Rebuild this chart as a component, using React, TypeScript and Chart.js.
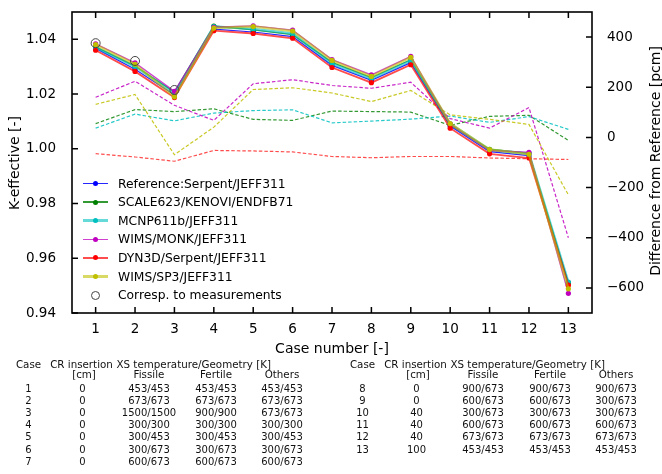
import React, { useEffect, useRef } from 'react';
import { Chart, registerables } from 'chart.js';

Chart.register(...registerables);

// ---------------- data ----------------
const cases = [1, 2, 3, 4, 5, 6, 7, 8, 9, 10, 11, 12, 13];

const refK = [1.0367, 1.0291, 1.0197, 1.0437, 1.0427, 1.041, 1.0305, 1.025, 1.0315, 1.0083, 0.999, 0.9975, 0.951];
const scaleK = [1.03727, 1.03024, 1.02075, 1.04489, 1.04345, 1.04171, 1.03158, 1.02606, 1.03254, 1.00878, 0.99984, 0.99838, 0.95089];
const mcnpK = [1.03708, 1.03006, 1.02037, 1.04471, 1.04382, 1.04215, 1.0311, 1.02567, 1.03225, 1.00916, 0.9996, 0.99833, 0.9513];
const monkK = [1.03836, 1.03141, 1.02101, 1.04441, 1.04493, 1.04339, 1.03263, 1.02701, 1.03377, 1.00906, 0.99937, 0.99869, 0.9472];
const dyn3dK = [1.03603, 1.0283, 1.01873, 1.04316, 1.04214, 1.0404, 1.02972, 1.02417, 1.03072, 1.00753, 0.99818, 0.99665, 0.95016];
const sp3K = [1.03807, 1.03086, 1.019, 1.04413, 1.04469, 1.04306, 1.03232, 1.02647, 1.03343, 1.00921, 0.99972, 0.99802, 0.94882];

const measCases = [1, 2, 3];
const measK = [1.0386, 1.0321, 1.0215];

const scaleDiff = [55, 111, 103, 114, 72, 68, 105, 103, 101, 48, 84, 88, -12];
const mcnpDiff = [37, 93, 66, 97, 107, 110, 58, 65, 73, 85, 60, 83, 32];
const monkDiff = [160, 224, 128, 68, 214, 230, 207, 196, 220, 75, 37, 119, -400];
const dyn3dDiff = [-65, -78, -95, -52, -54, -58, -76, -81, -76, -76, -82, -85, -88];
const sp3Diff = [132, 171, -69, 41, 191, 198, 177, 143, 187, 90, 72, 52, -229];

const kTicks = [0.94, 0.96, 0.98, 1.0, 1.02, 1.04];
const pcmTicks = [-600, -400, -200, 0, 200, 400];

const seriesNames = [
  'Reference:Serpent/JEFF311',
  'SCALE623/KENOVI/ENDFB71',
  'MCNP611b/JEFF311',
  'WIMS/MONK/JEFF311',
  'DYN3D/Serpent/JEFF311',
  'WIMS/SP3/JEFF311',
];
const measName = 'Corresp. to measurements';

// table
const tableCaseA = ['1', '2', '3', '4', '5', '6', '7'];
const tableCRA = ['0', '0', '0', '0', '0', '0', '0'];
const tableFissileA = ['453/453', '673/673', '1500/1500', '300/300', '300/453', '300/673', '600/673'];
const tableFertileA = ['453/453', '673/673', '900/900', '300/300', '300/453', '300/673', '600/673'];
const tableOthersA = ['453/453', '673/673', '673/673', '300/300', '300/453', '300/673', '600/673'];

const tableCaseB = ['8', '9', '10', '11', '12', '13'];
const tableCRB = ['0', '0', '40', '40', '40', '100'];
const tableFissileB = ['900/673', '600/673', '300/673', '600/673', '673/673', '453/453'];
const tableFertileB = ['900/673', '600/673', '300/673', '600/673', '673/673', '453/453'];
const tableOthersB = ['900/673', '300/673', '300/673', '600/673', '673/673', '453/453'];

// ---------------- styles ----------------
const W = 662;
const H = 474;
const FONT = "'DejaVu Sans', 'Noto Sans', sans-serif";

const seriesStyle = [
  { color: 'rgb(0,0,255)', line: 'rgba(0,0,255,0.85)', width: 1.2, dash: 'rgba(0,0,255,0.8)' },
  { color: 'rgb(0,128,0)', line: 'rgba(0,128,0,0.8)', width: 1.3, dash: 'rgba(0,128,0,0.8)' },
  { color: 'rgb(0,191,191)', line: 'rgba(0,191,191,0.6)', width: 2.5, dash: 'rgba(0,191,191,0.85)' },
  { color: 'rgb(191,0,191)', line: 'rgba(191,0,191,0.75)', width: 1.4, dash: 'rgba(191,0,191,0.85)' },
  { color: 'rgb(255,0,0)', line: 'rgba(255,0,0,0.7)', width: 1.8, dash: 'rgba(255,0,0,0.7)' },
  { color: 'rgb(191,191,0)', line: 'rgba(191,191,0,0.6)', width: 2.5, dash: 'rgba(191,191,0,0.85)' },
];

const kSeries = [refK, scaleK, mcnpK, monkK, dyn3dK, sp3K];
const diffSeries = [null, scaleDiff, mcnpDiff, monkDiff, dyn3dDiff, sp3Diff];

const framePlugin = {
  id: 'frameTicks',
  afterDatasetsDraw(chart: any) {
    const { ctx, chartArea: a, scales } = chart;
    const L = 6;
    ctx.save();
    ctx.strokeStyle = '#000';
    ctx.lineWidth = 1.5;
    ctx.beginPath();
    scales.x.ticks.forEach((t: any) => {
      const px = scales.x.getPixelForValue(t.value);
      ctx.moveTo(px, a.bottom);
      ctx.lineTo(px, a.bottom - L);
      ctx.moveTo(px, a.top);
      ctx.lineTo(px, a.top + L);
    });
    scales.y.ticks.forEach((t: any) => {
      const py = scales.y.getPixelForValue(t.value);
      ctx.moveTo(a.left, py);
      ctx.lineTo(a.left + L, py);
    });
    scales.y2.ticks.forEach((t: any) => {
      const py = scales.y2.getPixelForValue(t.value);
      ctx.moveTo(a.right, py);
      ctx.lineTo(a.right - L, py);
    });
    ctx.stroke();
    ctx.lineWidth = 1.6;
    ctx.strokeRect(a.left, a.top, a.right - a.left, a.bottom - a.top);
    ctx.restore();
  },
};

function ChartCanvas() {
  const ref = useRef<HTMLCanvasElement | null>(null);
  useEffect(() => {
    if (!ref.current) return;
    const datasets: any[] = [];
    let order = 100;
    diffSeries.forEach((d, i) => {
      if (!d) return;
      datasets.push({
        label: seriesNames[i] + ' diff',
        data: cases.map((c, j) => ({ x: c, y: d[j] })),
        yAxisID: 'y2',
        borderColor: seriesStyle[i].dash,
        borderWidth: 1.2,
        borderDash: [3.5, 2],
        pointRadius: 0,
        tension: 0,
        order: order--,
      });
    });
    kSeries.forEach((d, i) => {
      datasets.push({
        label: seriesNames[i],
        data: cases.map((c, j) => ({ x: c, y: d[j] })),
        yAxisID: 'y',
        borderColor: seriesStyle[i].line,
        borderWidth: seriesStyle[i].width,
        pointRadius: 2.6,
        pointBackgroundColor: seriesStyle[i].color,
        pointBorderWidth: 0,
        tension: 0,
        order: order--,
      });
    });
    datasets.push({
      label: measName,
      data: measCases.map((c, j) => ({ x: c, y: measK[j] })),
      yAxisID: 'y',
      showLine: false,
      pointRadius: 4.5,
      pointBackgroundColor: 'rgba(0,0,0,0)',
      pointBorderColor: '#444',
      pointBorderWidth: 1,
      order: order--,
    });

    const tickFont = { family: FONT, size: 13.5 };
    const chart = new Chart(ref.current, {
      type: 'line',
      data: { datasets },
      plugins: [framePlugin],
      options: {
        animation: false,
        responsive: false,
        devicePixelRatio: 1,
        layout: { padding: { top: 12, left: 0, right: 0, bottom: 0 } },
        plugins: { legend: { display: false }, tooltip: { enabled: false } },
        scales: {
          x: {
            type: 'linear',
            position: 'bottom',
            min: 0.4,
            max: 13.6,
            afterBuildTicks: (s: any) => {
              s.ticks = cases.map((v) => ({ value: v }));
            },
            afterFit: (s: any) => {
              s.height = H - 313;
              s.paddingLeft = 0;
              s.paddingRight = 0;
            },
            grid: { display: false },
            border: { display: false },
            ticks: {
              color: '#000',
              font: tickFont,
              padding: 0,
              maxRotation: 0,
              autoSkip: false,
              callback: (v: any) => String(v),
            },
          },
          y: {
            type: 'linear',
            position: 'left',
            min: 0.94,
            max: 1.05,
            afterBuildTicks: (s: any) => {
              s.ticks = kTicks.map((v) => ({ value: v }));
            },
            afterFit: (s: any) => {
              s.width = 72;
              s.paddingTop = 0;
              s.paddingBottom = 0;
            },
            grid: { display: false },
            border: { display: false },
            ticks: {
              color: '#000',
              font: tickFont,
              padding: 8,
              callback: (v: any) => Number(v).toFixed(2),
            },
          },
          y2: {
            type: 'linear',
            position: 'right',
            min: -700,
            max: 500,
            afterBuildTicks: (s: any) => {
              s.ticks = pcmTicks.map((v) => ({ value: v }));
            },
            afterFit: (s: any) => {
              s.width = W - 592;
              s.paddingTop = 0;
              s.paddingBottom = 0;
            },
            grid: { display: false },
            border: { display: false },
            ticks: {
              color: '#000',
              font: tickFont,
              padding: 7,
              callback: (v: any) => (Number(v) < 0 ? '\u2212' + Math.abs(Number(v)) : String(v)),
            },
          },
        },
      } as any,
    });
    return () => chart.destroy();
  }, []);
  return <canvas ref={ref} width={W} height={H} style={{ position: 'absolute', left: 0, top: 0 }} />;
}

function Cell({ x, y, text, size = 10, align = 'center' }: any) {
  const w = 200;
  const left = align === 'center' ? x - w / 2 : x;
  return (
    <div
      style={{
        position: 'absolute',
        left,
        top: y - 8,
        width: w,
        height: 16,
        lineHeight: '16px',
        fontSize: size,
        textAlign: align,
        whiteSpace: 'nowrap',
        color: '#111',
      }}
    >
      {text}
    </div>
  );
}

function TableBlock({ dx, caseCol, crCol, fis, fer, oth }: any) {
  const rowY0 = 388.5;
  const rowStep = 12.2;
  return (
    <>
      <Cell x={dx + 28.5} y={364} text="Case" size={10.3} />
      <Cell x={dx + 81.5} y={364} text="CR insertion" size={10.3} />
      <Cell x={dx + 116.5} y={364} text="XS temperature/Geometry [K]" align="left" size={10.3} />
      <Cell x={dx + 84} y={374} text="[cm]" size={10.3} />
      <Cell x={dx + 149} y={374} text="Fissile" size={10.3} />
      <Cell x={dx + 216} y={374} text="Fertile" size={10.3} />
      <Cell x={dx + 282} y={374} text="Others" size={10.3} />
      {caseCol.map((c: string, i: number) => (
        <React.Fragment key={i}>
          <Cell x={dx + 28.5} y={rowY0 + i * rowStep} text={c} />
          <Cell x={dx + 82.5} y={rowY0 + i * rowStep} text={crCol[i]} />
          <Cell x={dx + 149} y={rowY0 + i * rowStep} text={fis[i]} />
          <Cell x={dx + 216} y={rowY0 + i * rowStep} text={fer[i]} />
          <Cell x={dx + 282} y={rowY0 + i * rowStep} text={oth[i]} />
        </React.Fragment>
      ))}
    </>
  );
}

function Legend() {
  const y0 = 183.5;
  const step = 18.6;
  return (
    <>
      {seriesNames.map((n, i) => {
        const cy = y0 + i * step;
        const st = seriesStyle[i];
        return (
          <React.Fragment key={n}>
            <div
              style={{
                position: 'absolute',
                left: 83,
                top: cy - st.width / 2,
                width: 25,
                height: st.width,
                background: st.line,
              }}
            />
            <div
              style={{
                position: 'absolute',
                left: 95.5 - 2.6,
                top: cy - 2.6,
                width: 5.2,
                height: 5.2,
                borderRadius: '50%',
                background: st.color,
              }}
            />
            <div
              style={{
                position: 'absolute',
                left: 118,
                top: cy - 8,
                height: 16,
                lineHeight: '16px',
                fontSize: 12.3,
                whiteSpace: 'nowrap',
                color: '#000',
              }}
            >
              {n}
            </div>
          </React.Fragment>
        );
      })}
      <div
        style={{
          position: 'absolute',
          left: 95.5 - 4.5,
          top: y0 + 6 * step - 4.5,
          width: 7,
          height: 7,
          borderRadius: '50%',
          border: '1px solid #444',
        }}
      />
      <div
        style={{
          position: 'absolute',
          left: 118,
          top: y0 + 6 * step - 8,
          height: 16,
          lineHeight: '16px',
          fontSize: 12.3,
          whiteSpace: 'nowrap',
          color: '#000',
        }}
      >
        {measName}
      </div>
    </>
  );
}

export default function App() {
  return (
    <div
      style={{
        position: 'absolute',
        left: 0,
        top: 0,
        width: W,
        height: H,
        background: '#fff',
        overflow: 'hidden',
        fontFamily: FONT,
      }}
    >
      <ChartCanvas />
      <Legend />
      <div
        style={{
          position: 'absolute',
          left: 14 - 100,
          top: 162.5 - 9,
          width: 200,
          height: 18,
          lineHeight: '18px',
          fontSize: 14,
          textAlign: 'center',
          transform: 'rotate(-90deg)',
          color: '#000',
        }}
      >
        K-effective [-]
      </div>
      <div
        style={{
          position: 'absolute',
          left: 655 - 150,
          top: 161 - 9,
          width: 300,
          height: 18,
          lineHeight: '18px',
          fontSize: 14,
          textAlign: 'center',
          transform: 'rotate(-90deg)',
          color: '#000',
        }}
      >
        Difference from Reference [pcm]
      </div>
      <div
        style={{
          position: 'absolute',
          left: 332 - 100,
          top: 348 - 9,
          width: 200,
          height: 18,
          lineHeight: '18px',
          fontSize: 14,
          textAlign: 'center',
          color: '#000',
        }}
      >
        Case number [-]
      </div>
      <TableBlock dx={0} caseCol={tableCaseA} crCol={tableCRA} fis={tableFissileA} fer={tableFertileA} oth={tableOthersA} />
      <TableBlock dx={334} caseCol={tableCaseB} crCol={tableCRB} fis={tableFissileB} fer={tableFertileB} oth={tableOthersB} />
    </div>
  );
}
